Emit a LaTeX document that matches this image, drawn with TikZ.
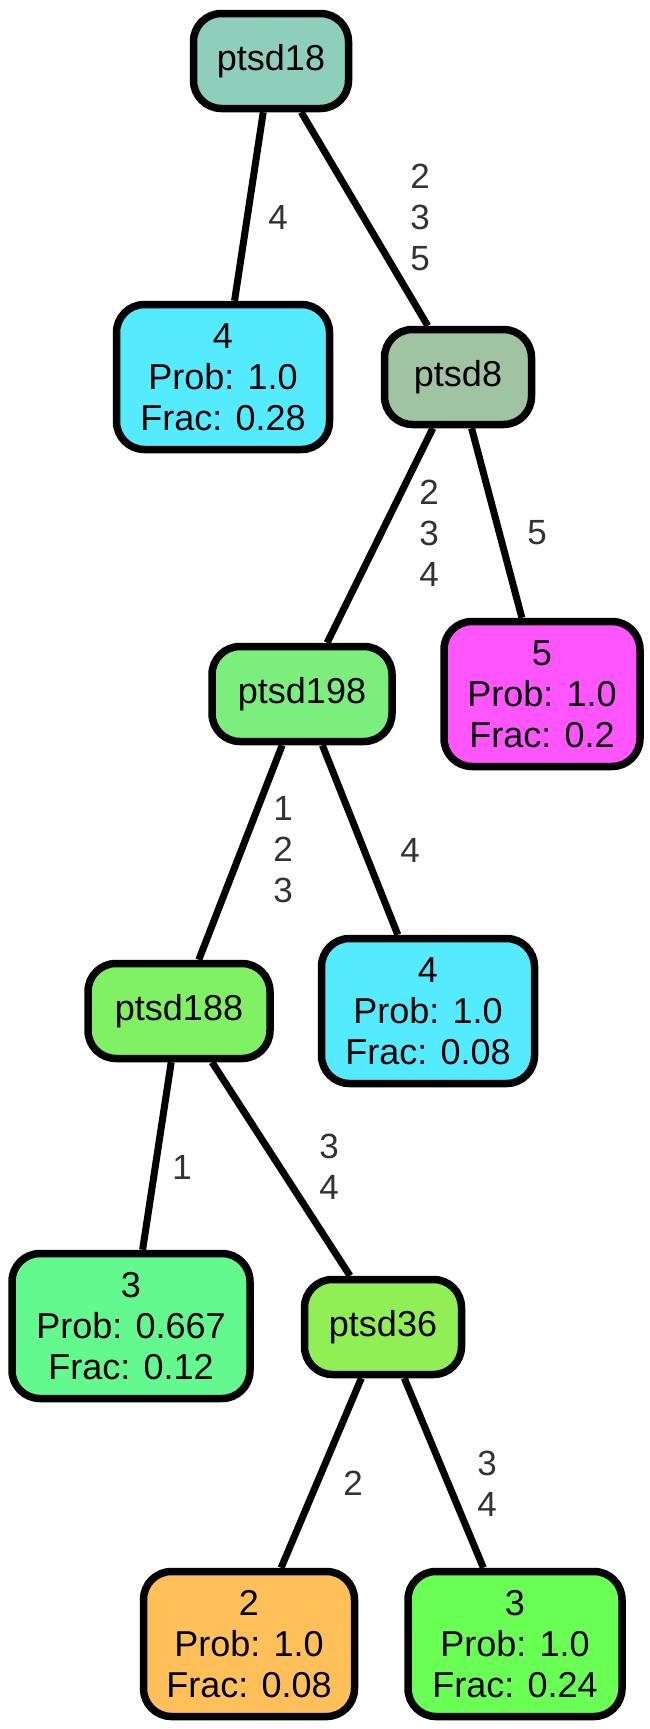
\documentclass[tikz,border=0pt]{standalone}
\usepackage{fontspec}
\setmainfont{Liberation Sans}
\definecolor{cRoot}{HTML}{8ECFBB}
\definecolor{cCyan}{HTML}{55EBFF}
\definecolor{cSage}{HTML}{A0C4A2}
\definecolor{cMint}{HTML}{7BEE7D}
\definecolor{cMagenta}{HTML}{FF55FF}
\definecolor{cLime}{HTML}{80F165}
\definecolor{cSea}{HTML}{63F98E}
\definecolor{cYellowGreen}{HTML}{8FEF54}
\definecolor{cOrange}{HTML}{FFC05A}
\definecolor{cGreen}{HTML}{6AFF55}
\definecolor{cLabel}{HTML}{333333}
\begin{document}
\begin{tikzpicture}[x=1pt,y=-1pt,
  box/.style={draw=black, line width=7.5pt, rounded corners=28pt, align=center,
    inner sep=0pt, font=\fontsize{36}{41}\selectfont},
  split/.style={box, minimum height=95pt},
  leaf/.style={box, minimum height=145pt},
  lbl/.style={text=cLabel, align=center, inner sep=0pt, font=\fontsize{35}{41}\selectfont},
  edge/.style={line width=7pt}]
\useasboundingbox (0,0) rectangle (649,1729);

% decision nodes
\node[split, fill=cRoot, minimum width=155pt] (n18) at (271,61) {ptsd18};
\node[split, fill=cSage, minimum width=147pt] (n8) at (458,377) {ptsd8};
\node[split, fill=cMint, minimum width=180pt] (n198) at (302,694) {ptsd198};
\node[split, fill=cLime, minimum width=182pt] (n188) at (179,1011) {ptsd188};
\node[split, fill=cYellowGreen, minimum width=157pt] (n36) at (383,1327) {ptsd36};

% leaves
\node[leaf, fill=cCyan, minimum width=213pt] (l4a) at (223,377) {4\\Prob: 1.0\\Frac: 0.28};
\node[leaf, fill=cMagenta, minimum width=196pt] (l5) at (542,694) {5\\Prob: 1.0\\Frac: 0.2};
\node[leaf, fill=cCyan, minimum width=213pt] (l4b) at (428,1011) {4\\Prob: 1.0\\Frac: 0.08};
\node[leaf, fill=cSea, minimum width=238pt] (l3a) at (131,1326) {3\\Prob: 0.667\\Frac: 0.12};
\node[leaf, fill=cOrange, minimum width=211pt] (l2) at (249,1644) {2\\Prob: 1.0\\Frac: 0.08};
\node[leaf, fill=cGreen, minimum width=214pt] (l3b) at (515,1644) {3\\Prob: 1.0\\Frac: 0.24};

% connectors
\draw[edge] (n18) -- (l4a);
\draw[edge] (n18) -- (n8);
\draw[edge] (n8) -- (n198);
\draw[edge] (n8) -- (l5);
\draw[edge] (n198) -- (n188);
\draw[edge] (n198) -- (l4b);
\draw[edge] (n188) -- (l3a);
\draw[edge] (n188) -- (n36);
\draw[edge] (n36) -- (l2);
\draw[edge] (n36) -- (l3b);

% connector labels
\node[lbl] (e1) at (278,217) {4};
\node[lbl] (e2) at (420,217) {2\\3\\5};
\node[lbl] (e3) at (429,533) {2\\3\\4};
\node[lbl] (e4) at (537,533) {5};
\node[lbl] (e5) at (283,850) {1\\2\\3};
\node[lbl] (e6) at (410,850) {4};
\node[lbl] (e7) at (182,1167) {1};
\node[lbl] (e8) at (329,1167) {3\\4};
\node[lbl] (e9) at (353,1483) {2};
\node[lbl] (e10) at (487,1484) {3\\4};
\end{tikzpicture}
\end{document}
